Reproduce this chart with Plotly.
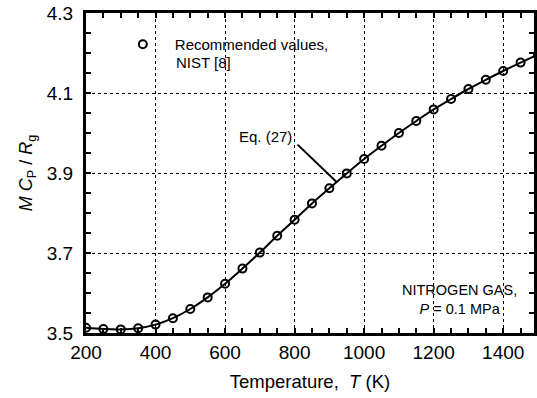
import plotly.graph_objects as go

# Data
temperature = [200, 250, 300, 350, 400, 450, 500, 550, 600, 650, 700, 750, 800, 850,
               900, 950, 1000, 1050, 1100, 1150, 1200, 1250, 1300, 1350, 1400, 1450, 1500]
cp_nist = [3.513, 3.510, 3.509, 3.512, 3.521, 3.537, 3.560, 3.589, 3.623, 3.661, 3.701,
           3.743, 3.783, 3.824, 3.862, 3.899, 3.935, 3.968, 4.000, 4.030, 4.059, 4.085,
           4.110, 4.133, 4.155, 4.176, 4.196]
x_ticks = [200, 400, 600, 800, 1000, 1200, 1400]
y_ticks = [3.5, 3.7, 3.9, 4.1, 4.3]

FONT = "Liberation Sans, Arial, Helvetica, sans-serif"

fig = go.Figure()
fig.add_trace(go.Scatter(
    x=temperature, y=cp_nist, mode="lines", line=dict(color="black", width=2, shape="spline"),
    showlegend=False, name="Eq. (27)"))
fig.add_trace(go.Scatter(
    x=temperature, y=cp_nist, mode="markers",
    marker=dict(symbol="circle-open", size=8, color="black", line=dict(width=2, color="black")),
    name="Recommended values,", showlegend=True))

axis_common = dict(
    showline=True, linecolor="black", linewidth=3, mirror="ticks",
    ticks="inside", ticklen=5, tickwidth=1.5, tickcolor="black",
    showgrid=True, gridcolor="black", gridwidth=1, griddash="dot",
    zeroline=False, tickfont=dict(family=FONT, size=19, color="black"),
)

fig.update_xaxes(
    **axis_common, range=[200, 1488.6], tickvals=x_ticks,
    minor=dict(dtick=50, ticks="inside", ticklen=5, tickcolor="black", tickwidth=1.5, showgrid=False),
    title=dict(text="Temperature,  <i>T</i> (K)", font=dict(family=FONT, size=18.5, color="black"), standoff=14),
)
fig.update_yaxes(
    **axis_common, range=[3.5, 4.3], tickvals=y_ticks, tickformat=".1f",
    ticklabelstandoff=6,
    minor=dict(dtick=0.05, ticks="inside", ticklen=5, tickcolor="black", tickwidth=1.5, showgrid=False),
    title=dict(text="<i>M C</i><sub>P</sub> / <i>R</i><sub>g</sub>", font=dict(family=FONT, size=18, color="black"), standoff=10),
)

fig.add_annotation(x=717, y=3.991, text="Eq. (27)", showarrow=False,
                   font=dict(family=FONT, size=15, color="black"))
fig.add_shape(type="line", x0=808.6, y0=3.971, x1=920, y1=3.878, line=dict(color="black", width=2))
fig.add_annotation(x=454, y=4.177, text="NIST [8]", showarrow=False, xanchor="left",
                   font=dict(family=FONT, size=15, color="black"))
fig.add_annotation(x=1274, y=3.583, text="NITROGEN GAS,<br><i>P</i> = 0.1 MPa", showarrow=False,
                   align="center", font=dict(family=FONT, size=14.5, color="black"))

fig.update_layout(
    width=537, height=398,
    margin=dict(l=86, r=0, t=13, b=65),
    paper_bgcolor="white", plot_bgcolor="white",
    font=dict(family=FONT, color="black"),
    legend=dict(x=0.0554, y=0.953, xanchor="left", yanchor="top", bgcolor="rgba(0,0,0,0)",
                font=dict(family=FONT, size=15, color="black"), itemwidth=54),
)

fig.write_html("out.html")
